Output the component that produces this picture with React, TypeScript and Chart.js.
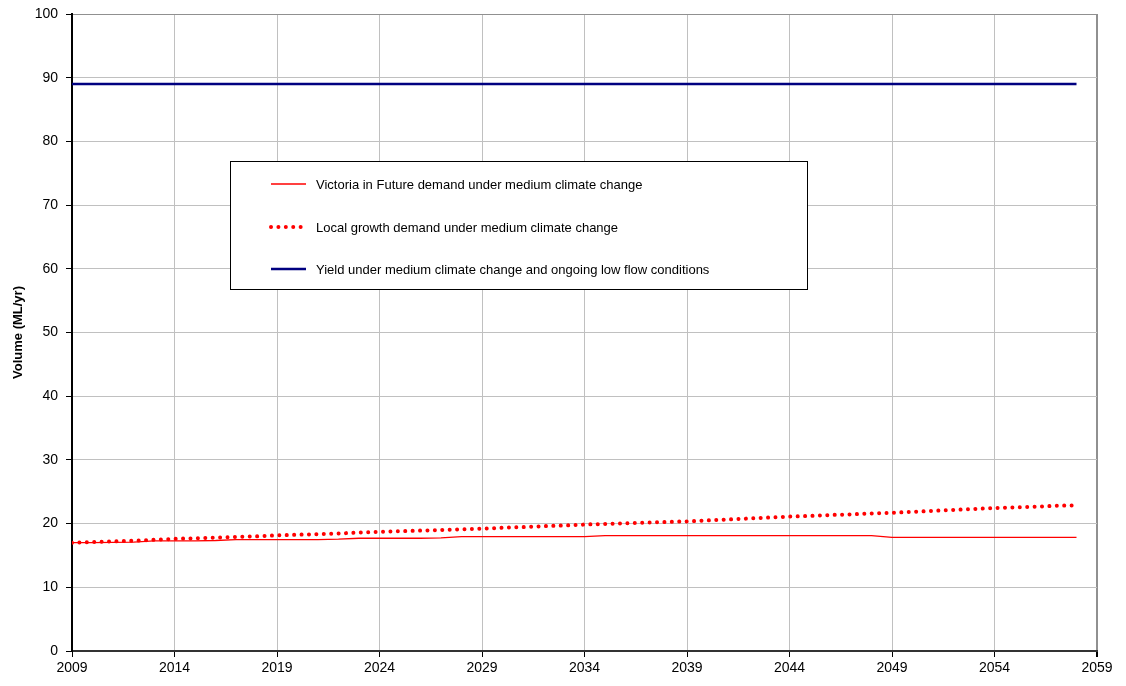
import React, { useEffect, useRef } from "react";
import { Chart, registerables } from "chart.js";

Chart.register(...registerables);

const years = [
  2009, 2010, 2011, 2012, 2013, 2014, 2015, 2016, 2017, 2018,
  2019, 2020, 2021, 2022, 2023, 2024, 2025, 2026, 2027, 2028,
  2029, 2030, 2031, 2032, 2033, 2034, 2035, 2036, 2037, 2038,
  2039, 2040, 2041, 2042, 2043, 2044, 2045, 2046, 2047, 2048,
  2049, 2050, 2051, 2052, 2053, 2054, 2055, 2056, 2057, 2058,
];

const victoriaDemand = [
  17.0, 17.0, 17.05, 17.1, 17.3, 17.3, 17.3, 17.35, 17.5, 17.5,
  17.5, 17.5, 17.5, 17.55, 17.7, 17.7, 17.7, 17.7, 17.75, 17.95,
  17.95, 17.95, 17.95, 17.95, 17.95, 17.95, 18.1, 18.1, 18.1, 18.1,
  18.1, 18.1, 18.1, 18.1, 18.1, 18.1, 18.1, 18.1, 18.1, 18.1,
  17.85, 17.85, 17.85, 17.85, 17.85, 17.85, 17.85, 17.85, 17.85, 17.85,
];

const localGrowthDemand = [
  17.0, 17.1, 17.2, 17.3, 17.45, 17.6, 17.7, 17.8, 17.9, 18.0,
  18.15, 18.25, 18.35, 18.45, 18.6, 18.7, 18.8, 18.9, 19.0, 19.1,
  19.2, 19.35, 19.45, 19.6, 19.7, 19.85, 19.95, 20.05, 20.15, 20.25,
  20.35, 20.5, 20.65, 20.8, 20.95, 21.1, 21.2, 21.35, 21.45, 21.6,
  21.7, 21.85, 22.0, 22.15, 22.3, 22.45, 22.55, 22.65, 22.8, 22.87,
];

const yieldYears = [2009, 2058];
const yieldValues = [89, 89];

const seriesLabels = [
  "Victoria in Future demand under medium climate change",
  "Local growth demand under medium climate change",
  "Yield under medium climate change and ongoing low flow conditions",
];

const xTicks = [2009, 2014, 2019, 2024, 2029, 2034, 2039, 2044, 2049, 2054, 2059];
const yTicks = [0, 10, 20, 30, 40, 50, 60, 70, 80, 90, 100];
const yAxisTitle = "Volume (ML/yr)";

const FONT = "'Liberation Sans', Arial, sans-serif";

const boxLegendPlugin = {
  id: "boxLegend",
  afterDraw(chart: any) {
    const ctx = chart.ctx;
    const x0 = 230.5, y0 = 161.5, w = 577, h = 128;
    ctx.save();
    ctx.fillStyle = "#ffffff";
    ctx.fillRect(x0, y0, w, h);
    ctx.strokeStyle = "#000000";
    ctx.lineWidth = 1;
    ctx.setLineDash([]);
    ctx.strokeRect(x0, y0, w, h);
    const rowsY = [184, 227, 269];
    chart.data.datasets.forEach((ds: any, i: number) => {
      const y = rowsY[i];
      ctx.save();
      ctx.strokeStyle = ds.borderColor;
      ctx.lineWidth = ds.borderWidth;
      ctx.lineCap = ds.borderCapStyle || "butt";
      ctx.setLineDash(ds.borderDash || []);
      ctx.beginPath();
      ctx.moveTo(271, y);
      ctx.lineTo(306, y);
      ctx.stroke();
      ctx.restore();
      ctx.fillStyle = "#000000";
      ctx.font = `13px ${FONT}`;
      ctx.textBaseline = "middle";
      ctx.textAlign = "left";
      ctx.fillText(seriesLabels[i], 316, y + 1);
    });
    ctx.restore();
  },
};

export default function App() {
  const canvasRef = useRef<HTMLCanvasElement | null>(null);

  useEffect(() => {
    if (!canvasRef.current) return;
    const chart = new Chart(canvasRef.current, {
      type: "line",
      data: {
        datasets: [
          {
            label: seriesLabels[0],
            data: years.map((yr, i) => ({ x: yr, y: victoriaDemand[i] })),
            borderColor: "#ff0000",
            borderWidth: 1.3,
            pointRadius: 0,
            tension: 0,
          },
          {
            label: seriesLabels[1],
            data: years.map((yr, i) => ({ x: yr, y: localGrowthDemand[i] })),
            borderColor: "#ff0000",
            borderWidth: 4,
            borderDash: [0.01, 7.4],
            borderCapStyle: "round",
            pointRadius: 0,
            tension: 0,
          },
          {
            label: seriesLabels[2],
            data: yieldYears.map((yr, i) => ({ x: yr, y: yieldValues[i] })),
            borderColor: "#000080",
            borderWidth: 2.5,
            pointRadius: 0,
            tension: 0,
          },
        ],
      },
      options: {
        responsive: false,
        animation: false,
        layout: { padding: { left: 0, right: 29, top: 14, bottom: 0 } },
        plugins: {
          legend: { display: false },
          tooltip: { enabled: false },
        },
        scales: {
          x: {
            type: "linear",
            min: 2009,
            max: 2059,
            afterBuildTicks: (scale: any) => {
              scale.ticks = xTicks.map((v) => ({ value: v }));
            },
            afterFit: (scale: any) => {
              scale.height = 35;
            },
            ticks: {
              color: "#000",
              font: { family: FONT, size: 14 },
              padding: 3,
              maxRotation: 0,
              autoSkip: false,
              callback: (v: any) => String(v),
            },
            grid: {
              color: (c: any) => (c.tick && c.tick.value === 2059 ? "#909090" : "#c0c0c0"),
              lineWidth: (c: any) => (c.tick && c.tick.value === 2059 ? 2 : 1),
              tickColor: "#000",
              tickLength: 6,
            },
            border: { color: "#333", width: 2 },
          },
          y: {
            type: "linear",
            min: 0,
            max: 100,
            afterBuildTicks: (scale: any) => {
              scale.ticks = yTicks.map((v) => ({ value: v }));
            },
            afterFit: (scale: any) => {
              scale.width = 72;
              scale.paddingTop = 0;
            },
            ticks: {
              color: "#000",
              font: { family: FONT, size: 14 },
              padding: 8,
              callback: (v: any) => String(v),
            },
            grid: {
              color: (c: any) => (c.tick && c.tick.value === 100 ? "#909090" : "#c0c0c0"),
              lineWidth: 1,
              tickColor: "#000",
              tickLength: 6,
            },
            border: { color: "#000", width: 2 },
            title: {
              display: true,
              text: yAxisTitle,
              color: "#000",
              font: { family: FONT, size: 13, weight: "bold" },
              padding: { top: 11, bottom: 0 },
            },
          },
        },
      },
      plugins: [boxLegendPlugin],
    } as any);
    return () => chart.destroy();
  }, []);

  return (
    <div style={{ position: "absolute", left: 0, top: 0, width: 1126, height: 686, background: "#fff" }}>
      <canvas ref={canvasRef} width={1126} height={686} style={{ display: "block" }} />
    </div>
  );
}
